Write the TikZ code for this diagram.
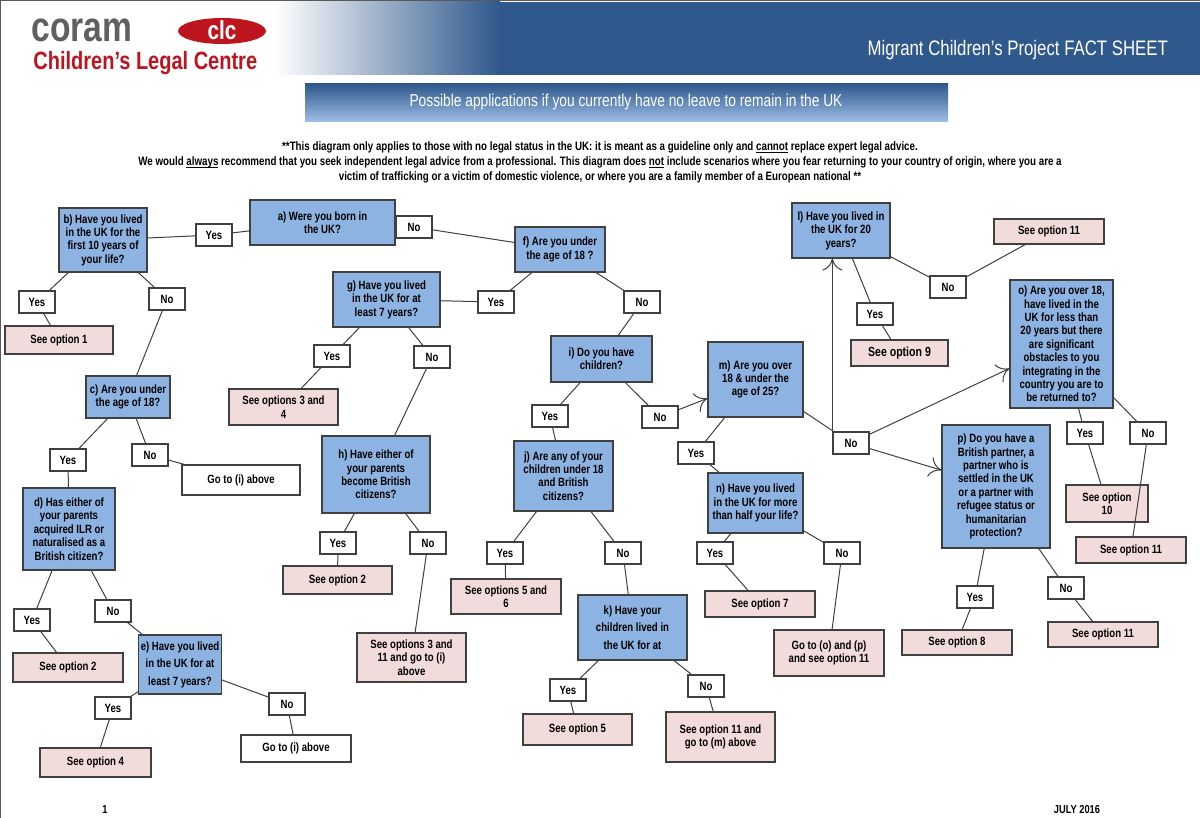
\documentclass[tikz,border=0pt]{standalone}
\usepackage{fontspec}
\setmainfont{Liberation Sans}[FakeStretch=0.8]
\usetikzlibrary{arrows.meta}
\definecolor{qblue}{RGB}{141,179,226}
\definecolor{apink}{RGB}{242,220,219}
\definecolor{edgec}{RGB}{64,64,64}
\definecolor{hdblue}{RGB}{47,88,140}
\definecolor{clcred}{RGB}{190,20,30}
\newcommand{\myul}[1]{\setbox0\hbox{#1}\rlap{\rule[-1.2pt]{\wd0}{0.4pt}}\box0\relax}
\newcommand{\bx}[7]{\node[#6, minimum width={(#4-#2)*0.5pt}, minimum height={(#5-#3)*0.5pt}] (#1) at ({(#2+#4)/2},{(#3+#5)/2}) {#7};}
\tikzset{
 box/.style={draw=edgec, line width=0.6pt, inner sep=1pt, align=center, font=\fontsize{6}{6.7}\selectfont\bfseries},
 qb/.style={box, fill=qblue},
 ab/.style={box, fill=apink},
 wb/.style={box, fill=white},
 lb/.style={draw=edgec, line width=0.6pt, fill=white, minimum width=18pt, minimum height=11pt, inner sep=0pt, font=\fontsize{6}{6.7}\selectfont\bfseries},
 ln/.style={draw=edgec, line width=0.5pt},
 ar/.style={ln, -{To[length=6pt,width=10pt]}},
}
\begin{document}
\begin{tikzpicture}[x=0.5pt,y=-0.5pt]
\useasboundingbox (0,0) rectangle (1200,818);
\fill[white] (0,0) rectangle (1200,818);
% header
\shade[left color=white, right color=hdblue, middle color=hdblue!50] (275,2) rectangle (500,75);
\fill[hdblue] (499,2) rectangle (1200,75);
\draw[gray!70!black, line width=1.2pt] (0,818) -- (0,0) -- (1200,0);
\node[anchor=east, text=white, font=\fontsize{10.5}{12}\selectfont] (title) at (1175,50) {Migrant Children’s Project FACT SHEET};
\node[anchor=west, text=gray!75!black, font=\fontsize{21}{22}\selectfont\bfseries, inner sep=0pt] (coram) at (31,30) {coram};
\fill[clcred] (222,31) ellipse (44 and 13);
\node[text=white, font=\fontsize{13}{14}\selectfont\bfseries] (clc) at (222,30) {clc};
\node[anchor=west, text=clcred, font=\fontsize{12.5}{13}\selectfont\bfseries, inner sep=0pt] (clcname) at (33,63) {Children’s Legal Centre};
\shade[top color=hdblue, bottom color=qblue!85] (305,84) rectangle (948,122);
\node[text=white, font=\fontsize{8.6}{10}\selectfont] (sub) at (626,102) {Possible applications if you currently have no leave to remain in the UK};
\node[align=center, font=\fontsize{6.1}{7.5}\selectfont\bfseries] (disc) at (600,162) {**This diagram only applies to those with no legal status in the UK: it is meant as a guideline only and \myul{cannot} replace expert legal advice.\\
We would \myul{always} recommend that you seek independent legal advice from a professional. This diagram does \myul{not} include scenarios where you fear returning to your country of origin, where you are a\\
victim of trafficking or a victim of domestic violence, or where you are a family member of a European national **};
\node[font=\fontsize{5.8}{7}\selectfont\bfseries] (pg) at (105,810) {1};
\node[font=\fontsize{5.8}{7}\selectfont\bfseries] (date) at (1077,810) {JULY 2016};
% questions
\bx{a}{250}{200}{395}{245}{qb}{a) Were you born in\\the UK?}
\bx{b}{59}{208}{147}{272}{qb}{b) Have you lived\\in the UK for the\\first 10 years of\\your life?}
\bx{c}{86}{376}{170}{418}{qb}{c) Are you under\\the age of 18?}
\bx{d}{23}{488}{115}{570}{qb}{d) Has either of\\your parents\\acquired ILR or\\naturalised as a\\British citizen?}
\bx{e}{142}{635}{218}{694}{qb}{e) Have you lived\\[2pt] in the UK for at\\[2pt] least 7 years?}
\bx{f}{515}{227}{605}{272}{qb}{f) Are you under\\the age of 18 ?}
\bx{g}{333}{272}{440}{327}{qb}{g) Have you lived\\in the UK for at\\least 7 years?}
\bx{h}{322}{436}{430}{513}{qb}{h) Have either of\\your parents\\become British\\citizens?}
\bx{i}{551}{336}{652}{382}{qb}{i) Do you have\\children?}
\bx{j}{514}{441}{613}{511}{qb}{j) Are any of your\\children under 18\\and British\\citizens?}
\bx{k}{578}{595}{687}{660}{qb}{k) Have your\\[2pt] children lived in\\[2pt] the UK for at}
\bx{l}{792}{203}{890}{258}{qb}{l) Have you lived in\\the UK for 20\\years?}
\bx{m}{708}{342}{803}{417}{qb}{m) Are you over\\18 \& under the\\age of 25?}
\bx{n}{708}{473}{803}{533}{qb}{n) Have you lived\\in the UK for more\\than half your life?}
\bx{o}{1010}{280}{1113}{408}{qb}{o) Are you over 18,\\have lived in the\\UK for less than\\20 years but there\\are significant\\obstacles to you\\integrating in the\\country you are to\\be returned to?}
\bx{p}{942}{425}{1050}{548}{qb}{p) Do you have a\\British partner, a\\partner who is\\settled in the UK\\or a partner with\\refugee status or\\humanitarian\\protection?}
% answers
\bx{o1}{5}{326}{113}{354}{ab}{See option 1}
\bx{o34}{229}{389}{338}{425}{ab}{See options 3 and\\4}
\bx{gi1}{182}{465}{300}{495}{wb}{Go to (i) above}
\bx{o2a}{13}{653}{123}{682}{ab}{See option 2}
\bx{o4}{40}{748}{151}{777}{ab}{See option 4}
\bx{gi2}{241}{735}{351}{762}{wb}{Go to (i) above}
\bx{o2b}{283}{566}{392}{594}{ab}{See option 2}
\bx{o311}{357}{633}{466}{682}{ab}{See options 3 and\\11 and go to (i)\\above}
\bx{o56}{451}{579}{561}{614}{ab}{See options 5 and\\6}
\bx{o5}{523}{714}{632}{745}{ab}{See option 5}
\bx{o11m}{666}{712}{775}{762}{ab}{See option 11 and\\go to (m) above}
\bx{o7}{705}{591}{815}{617}{ab}{See option 7}
\bx{gop}{774}{630}{884}{676}{ab}{Go to (o) and (p)\\and see option 11}
\bx{o8}{902}{630}{1012}{655}{ab}{See option 8}
\bx{o11c}{1048}{622}{1158}{647}{ab}{See option 11}
\bx{o11b}{1076}{537}{1186}{563}{ab}{See option 11}
\bx{o10}{1066}{485}{1148}{522}{ab}{See option\\10}
\bx{o9}{851}{340}{948}{366}{ab}{\fontsize{6.6}{7}\selectfont See option 9}
\bx{o11a}{994}{219}{1104}{244}{ab}{See option 11}
% labels
\node[lb] (Yab) at (214,235) {Yes};
\node[lb] (Naf) at (414,227) {No};
\node[lb] (Yb) at (37,302) {Yes};
\node[lb] (Nb) at (167,299) {No};
\node[lb] (Nf) at (642,302) {No};
\node[lb] (Yf) at (496,302) {Yes};
\node[lb] (Yg) at (332,356) {Yes};
\node[lb] (Ng) at (432,357) {No};
\node[lb] (Yc) at (68,460) {Yes};
\node[lb] (Nc) at (150,455) {No};
\node[lb] (Yi) at (550,416) {Yes};
\node[lb] (Ni) at (660,417) {No};
\node[lb] (Yd) at (32,620) {Yes};
\node[lb] (Nd) at (113,611) {No};
\node[lb] (Ye) at (113,708) {Yes};
\node[lb] (Ne) at (287,704) {No};
\node[lb] (Yh) at (338,543) {Yes};
\node[lb] (Nh) at (428,543) {No};
\node[lb] (Yj) at (505,553) {Yes};
\node[lb] (Nj) at (623,553) {No};
\node[lb] (Yk) at (568,690) {Yes};
\node[lb] (Nk) at (706,686) {No};
\node[lb] (Ym) at (696,453) {Yes};
\node[lb] (Nm) at (851,443) {No};
\node[lb] (Yn) at (715,553) {Yes};
\node[lb] (Nn) at (842,553) {No};
\node[lb] (Yl) at (875,314) {Yes};
\node[lb] (Nl) at (948,287) {No};
\node[lb] (Yo) at (1085,433) {Yes};
\node[lb] (No) at (1148,433) {No};
\node[lb] (Yp) at (975,597) {Yes};
\node[lb] (Np) at (1066,588) {No};
% connectors
\draw[ln] (a) -- (Yab) -- (b);
\draw[ln] (a) -- (Naf) -- (f);
\draw[ln] (b) -- (Yb) -- (o1);
\draw[ln] (b) -- (Nb) -- (c);
\draw[ln] (c) -- (Yc) -- (d);
\draw[ln] (c) -- (Nc) -- (gi1);
\draw[ln] (d) -- (Yd) -- (o2a);
\draw[ln] (d) -- (Nd) -- (e);
\draw[ln] (e) -- (Ye) -- (o4);
\draw[ln] (e) -- (Ne) -- (gi2);
\draw[ln] (f) -- (Yf) -- (g);
\draw[ln] (f) -- (Nf) -- (i);
\draw[ln] (g) -- (Yg) -- (o34);
\draw[ln] (g) -- (Ng) -- (h);
\draw[ln] (h) -- (Yh) -- (o2b);
\draw[ln] (h) -- (Nh) -- (o311);
\draw[ln] (i) -- (Yi) -- (j);
\draw[ln] (i) -- (Ni);
\draw[ar] (Ni) -- (m);
\draw[ln] (j) -- (Yj) -- (o56);
\draw[ln] (j) -- (Nj) -- (k);
\draw[ln] (k) -- (Yk) -- (o5);
\draw[ln] (k) -- (Nk) -- (o11m);
\draw[ln] (m) -- (Ym) -- (n);
\draw[ln] (m) -- (Nm);
\draw[ar] (Nm.north west) -- (Nm.north west |- l.south);
\draw[ar] (Nm) -- (o);
\draw[ar] (Nm) -- (p);
\draw[ln] (n) -- (Yn) -- (o7);
\draw[ln] (n) -- (Nn) -- (gop);
\draw[ln] (l) -- (Yl) -- (o9);
\draw[ln] (l) -- (Nl) -- (o11a);
\draw[ln] (o) -- (Yo) -- (o10);
\draw[ln] (o) -- (No) -- (o11b);
\draw[ln] (p) -- (Yp) -- (o8);
\draw[ln] (p) -- (Np) -- (o11c);
\end{tikzpicture}
\end{document}
